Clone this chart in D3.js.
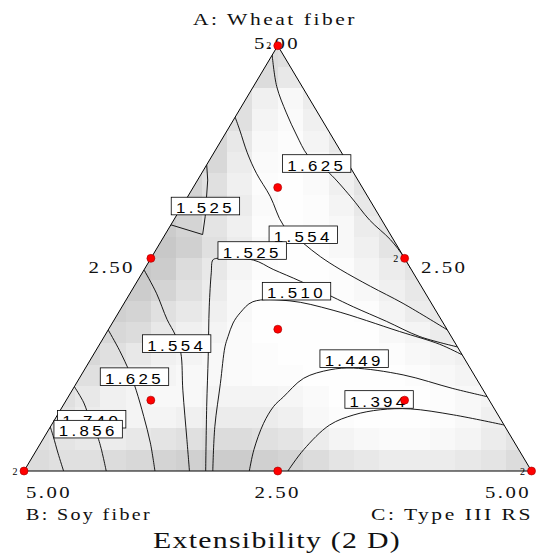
<!DOCTYPE html>
<html>
<head>
<meta charset="utf-8">
<script src="https://cdn.jsdelivr.net/npm/d3@7"></script>
<style>
  body { margin: 0; background: #fff; }
  svg { display: block; }
</style>
</head>
<body>
<svg id="chart" width="538" height="554"></svg>
<script>
// mixture total is 5; every point is [A: wheat fiber, C: type III RS], B = 5 - A - C

// design points (simplex centroid + axial check blends)
const designPts = [[5, 0], [0, 0], [0, 5], [2.5, 0], [2.5, 2.5], [0, 2.5],
    [1.667, 1.667], [3.333, 0.833], [0.833, 0.833], [0.833, 3.333]];
// points run twice ("2" marker)
const replicatePts = [[5, 0], [2.5, 2.5], [0, 0], [0, 5]];

// contour traces
const c1625top = [[4.89, 0], [4.52, 0.23], [4.21, 0.48], [3.95, 0.71], [3.72, 0.93], [3.60, 1.10],
    [3.50, 1.26], [3.23, 1.60], [2.95, 1.93], [2.72, 2.25], [2.52, 2.48], [2.385, 2.615]];
const c1554top = [[4.16, 0], [4.01, 0.12], [3.74, 0.33], [3.50, 0.54], [3.23, 0.81], [2.89, 1.11],
    [2.68, 1.41], [2.52, 1.66], [2.37, 1.93], [2.17, 2.33], [1.97, 2.75], [1.659, 3.341]];
const c1525edge = [[3.60, 0], [3.42, 0.10], [2.99, 0.29], [2.78, 0.37], [2.894, 0]];
const c1525mid = [[0, 1.79], [0.76, 1.42], [1.35, 1.14], [1.93, 0.86], [2.33, 0.68], [2.48, 0.62],
    [2.50, 0.65], [2.48, 1.02], [2.37, 1.27], [2.23, 1.61], [2.05, 2.01], [1.93, 2.28],
    [1.76, 2.69], [1.58, 3.11], [1.459, 3.541]];
const c1510 = [[0, 1.86], [0.52, 1.62], [1.03, 1.42], [1.46, 1.25], [1.58, 1.22], [1.74, 1.19],
    [1.86, 1.20], [1.99, 1.26], [2.00, 1.62], [1.89, 2.10], [1.64, 2.88], [1.49, 3.35], [1.365, 3.635]];
const c1449 = [[0, 2.22], [0.25, 2.14], [0.56, 2.08], [0.76, 2.08], [0.87, 2.12], [1.09, 2.21],
    [1.19, 2.42], [1.21, 2.64], [1.13, 3.17], [0.97, 3.74], [0.874, 4.126]];
const c1394 = [[0, 2.60], [0.25, 2.63], [0.54, 2.74], [0.66, 2.92], [0.72, 3.15], [0.73, 3.44],
    [0.66, 3.90], [0.541, 4.459]];
const c1554low = [[2.365, 0], [2.09, 0.26], [1.78, 0.52], [1.60, 0.69], [1.39, 0.85], [0.95, 1.09],
    [0.37, 1.42], [0, 1.63]];
const c1625low = [[1.659, 0], [1.42, 0.23], [1.15, 0.47], [0.95, 0.63], [0.64, 0.86], [0.33, 1.08], [0, 1.29]];
const c1740 = [[0.992, 0], [0.80, 0.19], [0.60, 0.35], [0.37, 0.55], [0, 0.81]];
const c1856 = [[0.518, 0], [0.40, 0.09], [0.21, 0.23], [0, 0.39]];

const contours = [c1625top, c1554top, c1525edge, c1525mid, c1510, c1449, c1394, c1554low, c1625low, c1740, c1856];

// contour labels and where they sit
const labelText = ["1.625", "1.525", "1.554", "1.525", "1.510", "1.449", "1.394", "1.554", "1.625", "1.740", "1.856"];
const labelSpots = [[3.615, 1.076], [3.115, 0.230], [2.777, 1.363], [2.592, 0.952], [2.114, 1.628],
    [1.321, 2.592], [0.841, 3.078], [1.498, 0.755], [1.109, 0.534], [0.609, 0.362], [0.492, 0.386]];

// background shading cells, 20 x 20 grid: [first column, grey levels]
const shadeRows = [
    [9, [0xdc, 0xe0]],
    [9, [0xdc, 0xe8]],
    [8, [0xe0, 0xf0, 0xf8, 0xec]],
    [8, [0xe0, 0xf4, 0xfa, 0xf0]],
    [7, [0xd8, 0xe8, 0xf8, 0xfc, 0xf4, 0xe8]],
    [7, [0xd8, 0xec, 0xfa, 0xfc, 0xf8, 0xec]],
    [6, [0xd4, 0xe0, 0xf0, 0xfc, 0xfe, 0xfa, 0xf0, 0xe4]],
    [6, [0xd0, 0xdc, 0xec, 0xfa, 0xfe, 0xfc, 0xf4, 0xe8]],
    [5, [0xcc, 0xd4, 0xe4, 0xf0, 0xfc, 0xfe, 0xfc, 0xf8, 0xec, 0xe4]],
    [5, [0xc8, 0xd0, 0xe0, 0xec, 0xf8, 0xfe, 0xfe, 0xf8, 0xf0, 0xe4]],
    [4, [0xc8, 0xcc, 0xdc, 0xe8, 0xf4, 0xfc, 0xfe, 0xfe, 0xfc, 0xf4, 0xec, 0xe4]],
    [4, [0xcc, 0xd4, 0xe0, 0xec, 0xf8, 0xfe, 0xfe, 0xfe, 0xfc, 0xf8, 0xf0, 0xe8]],
    [3, [0xd0, 0xd4, 0xe0, 0xe8, 0xf0, 0xf8, 0xfe, 0xfe, 0xfe, 0xfe, 0xfc, 0xf4, 0xec, 0xe8]],
    [3, [0xd8, 0xdc, 0xe8, 0xf0, 0xf4, 0xfa, 0xfe, 0xfe, 0xfe, 0xfe, 0xfe, 0xf8, 0xf4, 0xec]],
    [2, [0xd8, 0xe0, 0xe8, 0xf0, 0xf4, 0xf8, 0xfa, 0xfc, 0xfe, 0xfe, 0xfe, 0xfe, 0xfc, 0xf8, 0xf4, 0xf0]],
    [2, [0xe0, 0xe8, 0xf0, 0xf4, 0xf8, 0xf8, 0xfa, 0xfc, 0xfc, 0xfe, 0xfe, 0xfe, 0xfe, 0xfc, 0xf8, 0xf4]],
    [1, [0xe0, 0xe8, 0xf0, 0xf4, 0xf8, 0xf8, 0xf4, 0xf4, 0xf4, 0xf6, 0xfa, 0xfe, 0xfe, 0xfe, 0xfe, 0xfc, 0xf8, 0xf4]],
    [1, [0xe4, 0xec, 0xf0, 0xf4, 0xf4, 0xf0, 0xec, 0xec, 0xec, 0xf0, 0xf8, 0xfc, 0xfe, 0xfe, 0xfe, 0xfc, 0xf8, 0xf0]],
    [0, [0xe0, 0xe4, 0xe8, 0xec, 0xe8, 0xe4, 0xe0, 0xdc, 0xdc, 0xe0, 0xe4, 0xec, 0xf4, 0xf8, 0xfa, 0xfa, 0xf8, 0xf4, 0xec, 0xe4]],
    [0, [0xdc, 0xe0, 0xe0, 0xdc, 0xd8, 0xd4, 0xd0, 0xcc, 0xcc, 0xd0, 0xd4, 0xdc, 0xe4, 0xe8, 0xec, 0xec, 0xec, 0xe8, 0xe4, 0xdc]]
];

const svg = d3.select("#chart");
const serif = "'Liberation Serif', 'Times New Roman', serif";
const sans = "'Liberation Sans', Arial, sans-serif";

// ternary projection: x from C + A/2, y from A
const xScale = d3.scaleLinear().domain([0, 5]).range([24, 531.5]);
const yScale = d3.scaleLinear().domain([0, 5]).range([471, 45.7]);
function project(p) { return [xScale(p[1] + p[0] / 2), yScale(p[0])]; }

const corners = [[5, 0], [0, 0], [0, 5]].map(project);

svg.append("clipPath").attr("id", "tri")
    .append("polygon")
    .attr("points", corners.map(d => d.join(",")).join(" "));

// shading
const shade = svg.append("g").attr("clip-path", "url(#tri)").attr("shape-rendering", "crispEdges");
shade.append("polygon")
    .attr("points", corners.map(d => d.join(",")).join(" "))
    .attr("fill", "#fcfcfc");
shadeRows.forEach(function (row, r) {
    row[1].forEach(function (g, i) {
        let k = row[0] + i;
        let x0 = xScale(k * 0.25), x1 = xScale((k + 1) * 0.25);
        let y0 = yScale(5 - r * 0.25), y1 = yScale(5 - (r + 1) * 0.25);
        shade.append("rect")
            .attr("x", x0).attr("y", y0)
            .attr("width", x1 - x0 + 0.5).attr("height", y1 - y0 + 0.5)
            .attr("fill", d3.rgb(g, g, g));
    });
});

// contour lines
const smooth = d3.line().x(d => project(d)[0]).y(d => project(d)[1]).curve(d3.curveCatmullRom.alpha(0.5));
const straight = d3.line().x(d => project(d)[0]).y(d => project(d)[1]);
svg.append("g").attr("clip-path", "url(#tri)")
    .selectAll("path")
    .data(contours)
    .enter().append("path")
    .attr("d", d => (d === c1525edge ? straight(d) : smooth(d)))
    .attr("fill", "none")
    .attr("stroke", "#000")
    .attr("stroke-width", 0.9);

// triangle outline
svg.append("polygon")
    .attr("points", corners.map(d => d.join(",")).join(" "))
    .attr("fill", "none")
    .attr("stroke", "#000")
    .attr("stroke-width", 1);

// contour labels
const labels = svg.append("g").selectAll("g")
    .data(labelText)
    .enter().append("g")
    .attr("transform", (d, i) => "translate(" + project(labelSpots[i]).join(",") + ")");
labels.append("rect")
    .attr("x", -34.2).attr("y", -8.8)
    .attr("width", 68.4).attr("height", 17.6)
    .attr("fill", "#fff")
    .attr("stroke", "#000")
    .attr("stroke-width", 0.8);
labels.append("text")
    .text(d => d)
    .attr("x", -29.5).attr("y", 7.2)
    .attr("textLength", 59)
    .attr("lengthAdjust", "spacingAndGlyphs")
    .attr("letter-spacing", 3)
    .attr("font-family", sans)
    .attr("font-size", 15);

// axis texts
const axisText = [
    {t: "A: Wheat fiber", x: 193, y: 25, w: 164},
    {t: "5.00", x: 254, y: 49, w: 46},
    {t: "2.50", x: 88.5, y: 272.7, w: 46.5},
    {t: "2.50", x: 421, y: 272.7, w: 46.5},
    {t: "5.00", x: 26, y: 498, w: 46},
    {t: "2.50", x: 254.5, y: 498, w: 46.5},
    {t: "5.00", x: 485, y: 498, w: 46},
    {t: "B: Soy fiber", x: 26, y: 519.5, w: 126},
    {t: "C: Type III RS", x: 371, y: 519.5, w: 162}
];
svg.append("g").selectAll("text")
    .data(axisText)
    .enter().append("text")
    .text(d => d.t)
    .attr("x", d => d.x).attr("y", d => d.y)
    .attr("textLength", d => d.w)
    .attr("lengthAdjust", "spacingAndGlyphs")
    .attr("letter-spacing", 2)
    .attr("font-family", serif)
    .attr("font-size", 17)
    .attr("fill", "#111");

svg.append("text")
    .text("Extensibility (2 D)")
    .attr("x", 153).attr("y", 548)
    .attr("textLength", 248)
    .attr("lengthAdjust", "spacingAndGlyphs")
    .attr("letter-spacing", 1)
    .attr("font-family", serif)
    .attr("font-size", 23)
    .attr("fill", "#111");

// design points
svg.append("g").selectAll("circle")
    .data(designPts)
    .enter().append("circle")
    .attr("cx", d => project(d)[0])
    .attr("cy", d => project(d)[1])
    .attr("r", 4)
    .attr("fill", "#ff0000")
    .attr("stroke", "#a00000")
    .attr("stroke-width", 0.6);

svg.append("g").selectAll("text")
    .data(replicatePts)
    .enter().append("text")
    .text("2")
    .attr("x", d => project(d)[0] - 6.5)
    .attr("y", d => project(d)[1] + 3.5)
    .attr("text-anchor", "end")
    .attr("font-family", serif)
    .attr("font-size", 10)
    .attr("fill", "#000");
</script>
</body>
</html>
